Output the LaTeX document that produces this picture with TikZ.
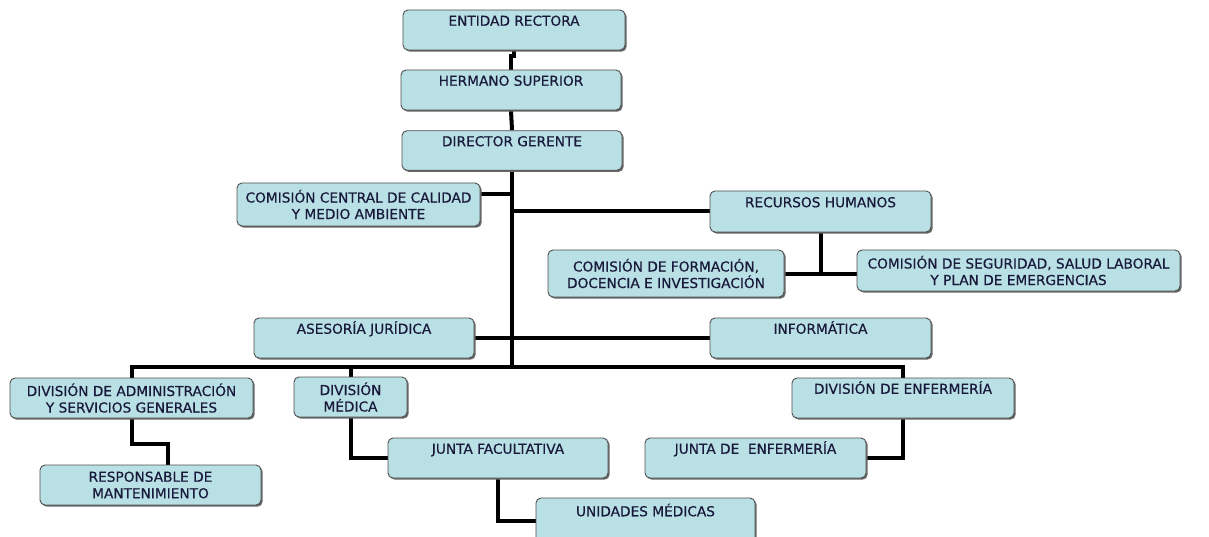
\documentclass[tikz,border=0pt]{standalone}
\usepackage{fontspec}
\setmainfont{DejaVu Sans}
\newfontface\boxfont{DejaVu Sans}[FakeBold=0.5]
\usetikzlibrary{shadows,backgrounds}
\definecolor{boxfill}{RGB}{185,224,228}
\definecolor{boxline}{RGB}{80,80,80}
\definecolor{txt}{RGB}{25,25,60}
\begin{document}
\begin{tikzpicture}[x=1pt,y=-1pt,
  box/.style={draw=boxline, fill=boxfill, rounded corners=5pt, line width=0.9pt,
    inner sep=0pt, font=\boxfont\fontsize{13.7}{16.5}\selectfont, text=txt,
    general shadow={fill=black!60, shadow xshift=1.6pt, shadow yshift=-1.6pt}},
  toptext/.style={text height=15.5pt, text depth=24pt},
  twoline/.style={align=center},
  link/.style={line width=4pt, draw=black}]
\useasboundingbox (0,0) rectangle (1209,537);

% boxes
\node[box,toptext,minimum width=222pt,minimum height=40pt] (ent) at (514,30) {ENTIDAD RECTORA};
\node[box,toptext,minimum width=220pt,minimum height=40pt] (her) at (511,90) {HERMANO SUPERIOR};
\node[box,toptext,minimum width=220pt,minimum height=39pt] (dir) at (512,150.5) {DIRECTOR GERENTE};
\node[box,twoline,minimum width=243pt,minimum height=43pt] (ccc) at (358.5,204.5) {COMISIÓN CENTRAL DE CALIDAD\\Y MEDIO AMBIENTE};
\node[box,toptext,minimum width=221pt,minimum height=41pt] (rh) at (820.5,211.5) {RECURSOS HUMANOS};
\node[box,twoline,minimum width=236pt,minimum height=47pt] (cfd) at (666,273.5) {COMISIÓN DE FORMACIÓN,\\DOCENCIA E INVESTIGACIÓN};
\node[box,twoline,minimum width=323pt,minimum height=41pt] (csl) at (1018.5,270.5) {COMISIÓN DE SEGURIDAD, SALUD LABORAL\\Y PLAN DE EMERGENCIAS};
\node[box,toptext,minimum width=220pt,minimum height=40pt] (aj) at (364,338) {ASESORÍA JURÍDICA};
\node[box,toptext,minimum width=221pt,minimum height=40pt] (inf) at (820.5,338) {INFORMÁTICA};
\node[box,twoline,minimum width=243pt,minimum height=40pt] (dad) at (131.5,398) {DIVISIÓN DE ADMINISTRACIÓN\\Y SERVICIOS GENERALES};
\node[box,twoline,minimum width=113pt,minimum height=40pt] (dme) at (350.5,397) {DIVISIÓN\\MÉDICA};
\node[box,toptext,minimum width=222pt,minimum height=40pt] (den) at (903,398) {DIVISIÓN DE ENFERMERÍA};
\node[box,twoline,minimum width=221pt,minimum height=40pt] (rm) at (150.5,485) {RESPONSABLE DE\\MANTENIMIENTO};
\node[box,toptext,minimum width=220pt,minimum height=40pt] (jf) at (498,458) {JUNTA FACULTATIVA};
\node[box,toptext,minimum width=221pt,minimum height=40pt] (je) at (755.5,458) {JUNTA DE\ \ ENFERMERÍA};
\node[box,toptext,minimum width=219pt,minimum height=45pt] (um) at (645.5,520.5) {UNIDADES MÉDICAS};

\coordinate (bus) at (512,367);

\begin{scope}[on background layer]
\fill[white] (0,0) rectangle (1209,537);
\draw[link] (ent.south) -- ++(0,6) -| (her.north);
\draw[link] (her.south) -- (dir.north);
\draw[link] (dir.south) -- (bus);
\draw[link] ([yshift=10pt]ccc.east) -- ([yshift=10pt]ccc.east -| dir.south);
\draw[link] (rh.west) -- (rh.west -| dir.south);
\draw[link] (rh.south) -- (rh.south |- cfd.east);
\draw[link] (cfd.east) -- (cfd.east -| csl.west);
\draw[link] (aj.east) -- (inf.west);
\draw[link] (dad.north) |- (bus) -| (den.north);
\draw[link] (dme.north) -- (dme.north |- bus);
\draw[link] (dad.south) -- ++(0,26) -| ([xshift=17pt]rm.north);
\draw[link] (dme.south) |- (jf.west);
\draw[link] (jf.south) |- (um.west);
\draw[link] (den.south) |- (je.east);
\end{scope}
\end{tikzpicture}
\end{document}
